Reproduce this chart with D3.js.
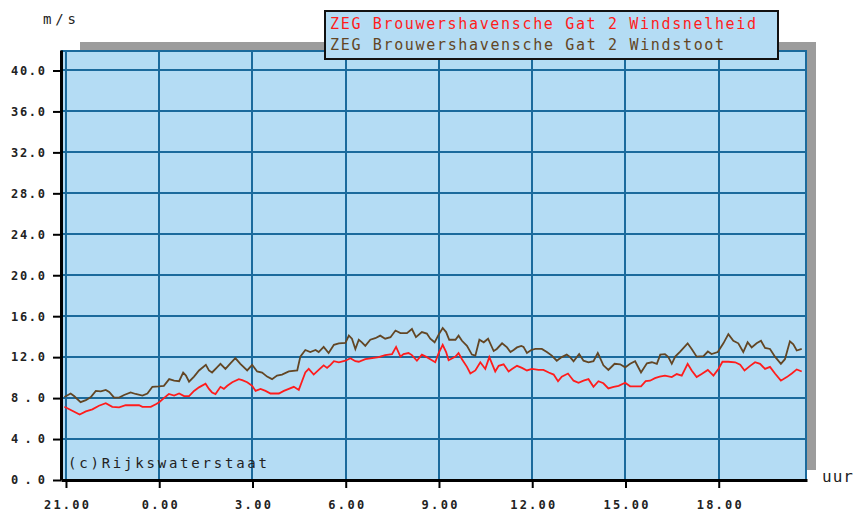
<!DOCTYPE html>
<html>
<head>
<meta charset="utf-8">
<script src="https://cdn.jsdelivr.net/npm/d3@7"></script>
<style>
  html, body { margin: 0; padding: 0; background: #ffffff; }
  svg { display: block; }
  text { font-family: "DejaVu Sans Mono", "Liberation Mono", monospace; }
</style>
</head>
<body>
<svg id="chart" width="855" height="517"></svg>
<script>
// Hours after 21:00 at which each reading was taken, with the value in m/s.
const speedHours = [-0.05,0.44,0.64,0.85,1.06,1.28,1.49,1.71,1.92,2.35,2.46,2.73,2.89,3.0,3.15,3.31,3.48,3.64,3.8,3.96,4.12,4.28,4.49,4.6,
  4.7,4.81,4.97,5.08,5.19,5.35,5.56,5.67,5.83,5.99,6.1,6.26,6.42,6.58,6.85,7.01,7.17,7.33,7.49,7.6,7.7,7.81,7.97,8.13,8.29,8.4,8.51,8.62,8.78,8.99,9.15,9.31,
  9.42,9.63,9.85,10.06,10.27,10.49,10.62,10.76,10.86,11.02,11.13,11.29,11.45,11.61,11.72,11.88,11.99,12.12,12.23,12.31,12.53,12.63,12.74,12.9,13.01,13.17,13.33,13.49,13.62,13.81,13.92,14.08,
  14.24,14.35,14.51,14.67,14.83,14.99,15.2,15.36,15.53,15.69,15.83,15.95,16.15,16.33,16.49,16.65,16.81,16.97,17.13,17.29,17.45,17.62,17.78,17.99,18.15,18.31,18.5,18.65,18.79,18.95,
  19.1,19.27,19.49,19.65,19.81,20.0,20.13,20.29,20.45,20.65,20.83,20.99,21.12,21.31,21.53,21.69,21.83,22.01,22.17,22.33,22.49,22.65,22.81,23.0,23.19,23.35,23.51,23.67];
const speedValues = [7.15,6.4,6.7,6.9,7.25,7.5,7.15,7.1,7.3,7.3,7.15,7.15,7.4,7.6,8.0,8.4,8.25,8.45,8.2,8.2,8.7,9.05,9.4,8.9,
  8.55,8.4,9.1,8.9,9.2,9.55,9.85,9.75,9.55,9.2,8.7,8.9,8.7,8.45,8.45,8.7,8.9,9.1,8.8,9.7,10.5,10.85,10.3,10.75,11.2,10.95,11.25,11.6,11.5,11.65,11.9,11.6,
  11.55,11.8,11.9,12.0,12.2,12.3,13.0,12.05,12.3,12.4,12.2,11.65,12.25,12.0,11.8,11.5,12.4,13.2,12.5,11.7,12.05,12.4,11.8,11.05,10.4,10.7,11.5,10.85,12.0,10.6,11.15,11.3,
  10.6,10.85,11.15,10.95,10.7,10.85,10.75,10.75,10.5,10.3,9.65,10.1,10.4,9.7,9.5,9.7,9.85,9.1,9.65,9.45,8.95,9.1,9.2,9.5,9.15,9.15,9.15,9.65,9.7,9.95,
  10.1,10.2,10.05,10.35,10.2,11.35,10.7,10.05,10.35,10.75,10.2,10.85,11.55,11.55,11.5,11.25,10.7,11.15,11.5,11.35,10.85,11.05,10.4,9.7,10.05,10.4,10.8,10.6];

const gustHours = [-0.05,0.15,0.26,0.47,0.64,0.8,0.96,1.12,1.28,1.39,1.55,1.71,1.87,2.08,2.24,2.46,2.62,2.78,2.99,3.15,3.32,3.48,3.64,3.77,3.86,3.96,4.12,4.28,4.5,4.6,
  4.7,4.86,4.97,5.13,5.29,5.45,5.61,5.83,5.99,6.15,6.31,6.47,6.63,6.79,6.95,7.17,7.44,7.54,7.7,7.86,8.03,8.13,8.29,8.45,8.62,8.78,8.99,9.1,9.2,9.31,
  9.42,9.52,9.63,9.79,9.95,10.11,10.27,10.44,10.6,10.76,10.97,11.13,11.26,11.45,11.61,11.72,11.86,11.99,12.12,12.23,12.33,12.53,12.63,12.74,12.9,13.06,13.17,13.3,13.44,13.58,13.76,13.86,14.03,14.19,
  14.3,14.4,14.51,14.65,14.72,14.83,14.97,15.1,15.31,15.47,15.63,15.79,15.95,16.11,16.22,16.33,16.51,16.65,16.81,16.97,17.11,17.15,17.29,17.45,17.65,17.83,17.99,18.15,18.31,18.5,18.69,18.85,19.01,
  19.12,19.27,19.38,19.49,19.6,19.76,20.0,20.13,20.29,20.51,20.65,20.77,20.97,21.15,21.31,21.47,21.63,21.79,21.93,22.06,22.22,22.36,22.49,22.65,22.81,23.0,23.13,23.29,23.4,23.51,23.67];
const gustValues = [8.1,8.45,8.2,7.6,7.8,8.1,8.7,8.65,8.8,8.6,8.05,8.05,8.3,8.55,8.4,8.25,8.45,9.1,9.15,9.2,9.85,9.7,9.65,10.5,10.2,9.6,10.1,10.7,11.25,10.7,
  10.5,11.0,11.35,10.85,11.4,11.9,11.35,10.7,11.25,10.6,10.5,10.1,9.85,10.2,10.3,10.6,10.7,12.05,12.7,12.5,12.7,12.5,13.0,12.4,13.2,13.35,13.4,14.1,13.8,12.8,
  13.7,13.45,13.1,13.7,13.85,14.1,13.8,13.95,14.6,14.35,14.35,14.75,13.95,14.45,14.3,13.8,13.45,14.2,14.85,14.45,13.7,13.7,14.1,13.6,13.1,12.25,12.15,13.7,13.45,13.8,12.6,12.8,13.35,12.95,
  12.5,12.7,12.95,13.1,13.0,12.4,12.7,12.8,12.8,12.5,12.15,11.65,12.0,12.25,12.0,11.6,12.3,11.65,11.5,11.6,12.4,12.15,11.2,10.75,11.35,11.3,11.0,11.35,11.6,10.5,11.4,11.5,11.35,
  12.25,12.3,12.0,11.35,12.05,12.55,13.35,12.8,12.05,12.1,12.55,12.3,12.5,13.35,14.25,13.6,13.35,12.5,13.45,12.95,13.35,13.6,12.9,12.8,12.05,11.35,11.8,13.55,13.25,12.65,12.8];

const xTickHours = [0, 3, 6, 9, 12, 15, 18, 21];
const xTickLabels = ["21.00", "0.00", "3.00", "6.00", "9.00", "12.00", "15.00", "18.00"];
const yTickValues = [0, 4, 8, 12, 16, 20, 24, 28, 32, 36, 40];
const legendLabels = ["ZEG Brouwershavensche Gat 2 Windsnelheid", "ZEG Brouwershavensche Gat 2 Windstoot"];
const seriesColors = ["#ff1c1c", "#634624"];

const svg = d3.select("#chart");
const plot = { left: 61, right: 807, top: 50, bottom: 480 };
const bg = "#b4dcf4";
const gridColor = "#1b6a9c";

const x = d3.scaleLinear().domain([-0.16, 23.84]).range([plot.left, plot.right]);
const y = d3.scaleLinear().domain([0, 42]).range([plot.bottom, plot.top]);

// drop shadow behind the plot area
svg.append("rect").attr("x", 80).attr("y", 42).attr("width", 736).attr("height", 10).attr("fill", "#9c9c9c");
svg.append("rect").attr("x", 806).attr("y", 42).attr("width", 10).attr("height", 428).attr("fill", "#9c9c9c");

// plot background
svg.append("rect")
  .attr("x", plot.left).attr("y", plot.top)
  .attr("width", plot.right - plot.left).attr("height", plot.bottom - plot.top)
  .attr("fill", bg);

// grid
const grid = svg.append("g").attr("stroke", gridColor).attr("stroke-width", 2);
yTickValues.filter(v => v > 0).forEach(v => {
  grid.append("line").attr("x1", plot.left).attr("x2", plot.right)
    .attr("y1", Math.round(y(v))).attr("y2", Math.round(y(v)));
});
xTickHours.forEach(h => {
  grid.append("line").attr("y1", plot.top).attr("y2", plot.bottom)
    .attr("x1", Math.round(x(h))).attr("x2", Math.round(x(h)));
});
// frame top and right
grid.append("line").attr("x1", plot.left).attr("x2", plot.right).attr("y1", plot.top + 1).attr("y2", plot.top + 1);
grid.append("line").attr("x1", plot.right - 1).attr("x2", plot.right - 1).attr("y1", plot.top).attr("y2", plot.bottom);

// series lines
const line = d3.line().x(d => x(d[0])).y(d => y(d[1]));
const gustData = d3.zip(gustHours, gustValues);
const speedData = d3.zip(speedHours, speedValues);
svg.append("path").datum(gustData).attr("d", line)
  .attr("fill", "none").attr("stroke", seriesColors[1]).attr("stroke-width", 1.8).attr("stroke-linejoin", "miter");
svg.append("path").datum(speedData).attr("d", line)
  .attr("fill", "none").attr("stroke", seriesColors[0]).attr("stroke-width", 1.8).attr("stroke-linejoin", "miter");

// axes
const yAxis = d3.axisLeft(y).tickValues(yTickValues).tickSize(8).tickSizeOuter(0)
  .tickFormat(d3.format(".1f"));
const yg = svg.append("g").attr("transform", `translate(${plot.left},0)`).call(yAxis);
yg.select(".domain").attr("stroke", "#000").attr("stroke-width", 3);
yg.selectAll(".tick line").attr("stroke", "#000").attr("stroke-width", 2);
yg.selectAll(".tick text").attr("x", -16).attr("fill", "#222")
  .style("font-size", "12px").style("font-weight", "bold")
  .attr("textLength", 34).attr("lengthAdjust", "spacing");

const xAxis = d3.axisBottom(x).tickValues(xTickHours).tickSize(8).tickSizeOuter(0)
  .tickFormat((d, i) => xTickLabels[i]);
const xg = svg.append("g").attr("transform", `translate(0,${plot.bottom})`).call(xAxis);
xg.select(".domain").attr("stroke", "#000").attr("stroke-width", 3);
xg.selectAll(".tick line").attr("stroke", "#000").attr("stroke-width", 2);
xg.selectAll(".tick text").attr("y", 20).attr("fill", "#222")
  .style("font-size", "12px").style("font-weight", "bold")
  .each(function(d, i) {
    const n = xTickLabels[i].length;
    d3.select(this).attr("textLength", n * 9).attr("lengthAdjust", "spacing");
  });
svg.selectAll(".tick text").attr("font-family", null);

// units
svg.append("text").attr("x", 43).attr("y", 24).attr("fill", "#222")
  .style("font-size", "14px").attr("textLength", 33).attr("lengthAdjust", "spacing").text("m/s");
svg.append("text").attr("x", 822).attr("y", 482).attr("fill", "#222")
  .style("font-size", "16px").attr("textLength", 31).attr("lengthAdjust", "spacing").text("uur");

// credit
svg.append("text").attr("x", 68).attr("y", 468).attr("fill", "#222")
  .style("font-size", "14px").attr("textLength", 199).attr("lengthAdjust", "spacing").text("(c)Rijkswaterstaat");

// legend
const lg = svg.append("g");
lg.append("rect").attr("x", 325).attr("y", 11).attr("width", 453).attr("height", 48)
  .attr("fill", bg).attr("stroke", "#111").attr("stroke-width", 2);
legendLabels.forEach((t, i) => {
  lg.append("text").attr("x", 330).attr("y", 29 + i * 21)
    .attr("fill", seriesColors[i]).style("font-size", "15px")
    .attr("textLength", t.length * 10.65).attr("lengthAdjust", "spacing").text(t);
});
</script>
</body>
</html>
